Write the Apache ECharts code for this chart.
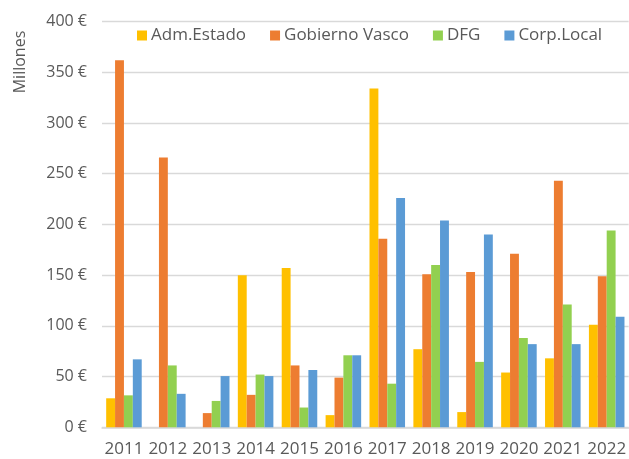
<!DOCTYPE html>
<html>
<head>
<meta charset="utf-8">
<script src="https://cdn.jsdelivr.net/npm/echarts@6/dist/echarts.min.js"></script>
<style>html,body{margin:0;padding:0;background:#fff}#c{width:629px;height:459px}</style>
</head>
<body>
<div id="c"></div>
<script>
var years = ['2011','2012','2013','2014','2015','2016','2017','2018','2019','2020','2021','2022'];
var admEstado = [28.6, 0, 0, 150, 157, 12, 334, 77, 15, 54, 68, 101];
var gobiernoVasco = [362, 266, 14, 32, 61, 49, 186, 151, 153, 171, 243, 149];
var dfg = [31.5, 61, 26, 52, 19.5, 71, 43, 160, 64.5, 88, 121, 194];
var corpLocal = [67, 33, 50.5, 50.5, 56.5, 71, 226, 204, 190, 82, 82, 109];
var yTicks = [0, 50, 100, 150, 200, 250, 300, 350, 400];

var font = 'Open Sans';
var txt = '#595959';
var chart = echarts.init(document.getElementById('c'));
function s(name, data, color) {
  return {name: name, type: 'bar', data: data, barGap: '0%', barCategoryGap: '19%',
    itemStyle: {color: color}, emphasis: {disabled: true}};
}
chart.setOption({
  animation: false,
  textStyle: {fontFamily: font},
  grid: {left: 102, right: -3, top: 21.6, bottom: 31.7, containLabel: false},
  legend: {
    left: 132, top: 22, itemWidth: 10, itemHeight: 10, itemGap: 24,
    icon: 'rect',
    textStyle: {fontFamily: font, fontSize: 17, color: txt, padding: [0, 0, 0, -1]},
    data: ['Adm.Estado', 'Gobierno Vasco', 'DFG', 'Corp.Local']
  },
  xAxis: {
    type: 'category', data: years,
    axisTick: {show: false},
    axisLine: {lineStyle: {color: '#D9D9D9', width: 1.5}},
    axisLabel: {fontFamily: font, fontSize: 17, color: txt, margin: 13, interval: 0}
  },
  yAxis: {
    type: 'value', min: yTicks[0], max: yTicks[yTicks.length - 1], interval: 50,
    axisLine: {show: false}, axisTick: {show: false},
    splitLine: {lineStyle: {color: '#D9D9D9', width: 1.3}},
    axisLabel: {fontFamily: font, fontSize: 16, color: txt, margin: 15,
      formatter: function (v) { return v + ' €'; }}
  },
  graphic: [{
    type: 'text', x: 20, y: 62, rotation: Math.PI / 2,
    style: {text: 'Millones', fontFamily: font, fontSize: 16, fill: txt,
      align: 'center', verticalAlign: 'middle'}
  }],
  series: [
    s('Adm.Estado', admEstado, '#FFC000'),
    s('Gobierno Vasco', gobiernoVasco, '#ED7D31'),
    s('DFG', dfg, '#92D050'),
    s('Corp.Local', corpLocal, '#5B9BD5')
  ]
});
</script>
</body>
</html>
